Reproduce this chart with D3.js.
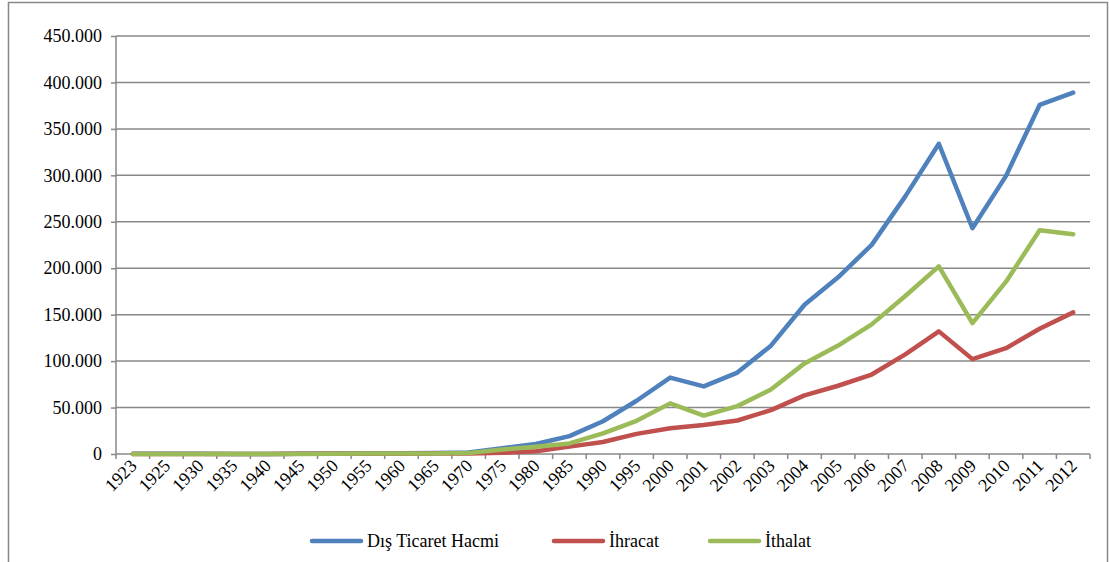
<!DOCTYPE html>
<html>
<head>
<meta charset="utf-8">
<script src="https://cdn.jsdelivr.net/npm/d3@7"></script>
<style>
  body { margin: 0; background: #fff; }
</style>
</head>
<body>
<div id="chart"></div>
<script>
// Data (milyon $)
var years = ["1923", "1925", "1930", "1935", "1940", "1945", "1950", "1955", "1960", "1965",
    "1970", "1975", "1980", "1985", "1990", "1995", "2000", "2001", "2002", "2003",
    "2004", "2005", "2006", "2007", "2008", "2009", "2010", "2011", "2012"];
var hacim = [138, 231, 150, 86, 131, 265, 549, 811, 789, 1036,
    1536, 6140, 10819, 19301, 35261, 57346, 82278, 72733, 87613, 116593,
    160707, 190250, 225111, 277335, 333991, 243071, 299427, 375749, 389007];
var ihracat = [51, 102, 72, 46, 81, 168, 263, 313, 321, 464,
    588, 1401, 2910, 7958, 12959, 21637, 27775, 31334, 36059, 47253,
    63167, 73476, 85535, 107272, 132027, 102143, 113883, 134907, 152462];
var ithalat = [87, 129, 78, 40, 50, 97, 286, 498, 468, 572,
    948, 4739, 7909, 11343, 22302, 35709, 54503, 41399, 51554, 69340,
    97540, 116774, 139576, 170063, 201964, 140928, 185544, 240842, 236545];
var yTicks = [0, 50000, 100000, 150000, 200000, 250000, 300000, 350000, 400000, 450000];

var series = [
    { name: "Dış Ticaret Hacmi", values: hacim, color: "#4F81BD" },
    { name: "İhracat", values: ihracat, color: "#C0504D" },
    { name: "İthalat", values: ithalat, color: "#9BBB59" }
];

//Setup
var width = 1109, height = 562;
var plot = { left: 116, right: 1090, top: 36, bottom: 454 };
var gridColor = "#888888";
var serif = "'Liberation Serif', 'DejaVu Serif', serif";
var fmt = function (d) { return d3.format(",")(d).replace(/,/g, "."); };

var x = d3.scaleBand().domain(years).range([plot.left, plot.right]);
var y = d3.scaleLinear().domain([0, 450000]).range([plot.bottom, plot.top]);

var svg = d3.select("#chart").append("svg")
    .attr("width", width)
    .attr("height", height)
    .style("font-family", serif);

// outer frame
svg.append("rect")
    .attr("x", 8.5).attr("y", 2.5)
    .attr("width", 1099).attr("height", 580)
    .attr("fill", "none")
    .attr("stroke", gridColor)
    .attr("stroke-width", 1.5);

// y axis with gridlines
var yAxis = svg.append("g")
    .attr("transform", `translate(${plot.left}, 0)`)
    .call(d3.axisLeft(y).tickValues(yTicks).tickFormat(fmt)
        .tickSize(5).tickPadding(9));
yAxis.attr("font-family", null).attr("font-size", null);
yAxis.select(".domain").remove();
yAxis.selectAll(".tick line").attr("stroke", gridColor).attr("stroke-width", 1.5);
yAxis.selectAll(".tick text")
    .style("font-family", serif)
    .style("font-size", "18px")
    .attr("fill", "#000");

svg.append("g").selectAll("line")
    .data(yTicks.filter(d => d > 0))
    .join("line")
    .attr("x1", plot.left).attr("x2", plot.right)
    .attr("y1", d => y(d)).attr("y2", d => y(d))
    .attr("stroke", gridColor)
    .attr("stroke-width", 1.5);

svg.append("line")
    .attr("x1", plot.left).attr("x2", plot.left)
    .attr("y1", plot.top).attr("y2", plot.bottom)
    .attr("stroke", gridColor).attr("stroke-width", 1.5);

// x axis
svg.append("line")
    .attr("x1", plot.left).attr("x2", plot.right)
    .attr("y1", plot.bottom).attr("y2", plot.bottom)
    .attr("stroke", gridColor).attr("stroke-width", 1.5);

var edges = years.map(d => x(d)).concat([plot.right]);
svg.append("g").selectAll("line")
    .data(edges)
    .join("line")
    .attr("x1", d => d).attr("x2", d => d)
    .attr("y1", plot.bottom).attr("y2", plot.bottom + 5)
    .attr("stroke", gridColor).attr("stroke-width", 1.5);

svg.append("g").selectAll("text")
    .data(years)
    .join("text")
    .attr("transform", d => `translate(${x(d) + x.bandwidth() / 2 + 5}, ${plot.bottom + 13}) rotate(-45)`)
    .attr("text-anchor", "end")
    .style("font-family", serif)
    .style("font-size", "18px")
    .text(d => d);

// lines
var line = d3.line()
    .x((d, i) => x(years[i]) + x.bandwidth() / 2)
    .y(d => y(d));

svg.append("g").selectAll("path")
    .data(series)
    .join("path")
    .attr("d", d => line(d.values))
    .attr("fill", "none")
    .attr("stroke", d => d.color)
    .attr("stroke-width", 4.5)
    .attr("stroke-linejoin", "round")
    .attr("stroke-linecap", "round");

// legend
var legendX = [312, 554, 710];
var legend = svg.append("g").selectAll("g")
    .data(series)
    .join("g")
    .attr("transform", (d, i) => `translate(${legendX[i]}, 541)`);
legend.append("line")
    .attr("x1", 0).attr("x2", 49)
    .attr("stroke", d => d.color)
    .attr("stroke-width", 4.5)
    .attr("stroke-linecap", "round");
legend.append("text")
    .attr("x", 55).attr("y", 6)
    .style("font-family", serif)
    .style("font-size", "18px")
    .text(d => d.name);
</script>
</body>
</html>
